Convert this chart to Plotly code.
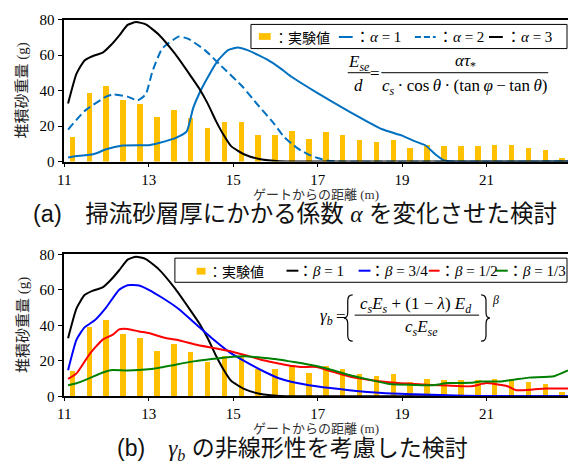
import plotly.graph_objects as go

# ---------------- data ----------------
bar_x = [11.2, 11.6, 12.0, 12.4, 12.8, 13.2, 13.6, 14.0, 14.4, 14.8, 15.2, 15.6, 16.0, 16.4, 16.8,
         17.2, 17.6, 18.0, 18.4, 18.8, 19.2, 19.6, 20.0, 20.4, 20.8, 21.2, 21.6, 22.0, 22.4, 22.8]
exp_vals = [14.1, 39.0, 42.8, 34.8, 32.9, 25.3, 29.4, 24.5, 19.3, 22.7, 22.7, 15.0, 15.3, 17.3, 12.8,
            16.8, 15.0, 12.3, 11.4, 12.3, 7.9, 9.7, 9.2, 8.8, 9.0, 9.6, 9.6, 7.8, 6.5, 2.2]

a1_x = [11.09, 11.29, 11.6, 11.76, 11.99, 12.38, 12.77, 13.0, 13.24, 13.63, 13.9, 14.05, 14.2, 14.33,
        14.64, 14.88, 15.11, 15.34, 15.81, 16.12, 16.4, 16.97, 17.75, 18.53, 19.0, 19.25, 19.55, 19.8,
        20.0, 20.2, 23.0]
a1_y = [2.3, 3.2, 3.8, 4.7, 6.9, 9.0, 9.2, 9.2, 10.5, 13.2, 17.0, 30.0, 38.5, 44.5,
        57.0, 62.8, 64.3, 62.8, 57.4, 52.5, 47.5, 39.0, 28.2, 18.2, 14.6, 11.9, 9.2, 3.8,
        0.6, 0.0, 0.0]

a2_x = [11.09, 11.48, 11.99, 12.15, 12.5, 12.74, 12.93, 13.09, 13.32, 13.71, 13.94, 14.33, 14.72,
        15.23, 15.58, 15.97, 16.2, 16.4, 16.6, 16.8, 17.0, 17.25, 17.5, 23.0]
a2_y = [18.0, 28.5, 36.6, 37.9, 36.6, 34.5, 37.9, 51.0, 63.7, 70.4, 69.1, 62.8, 53.8,
        42.0, 32.0, 21.3, 14.0, 9.8, 6.3, 3.8, 2.0, 0.4, 0.0, 0.0]

a3_x = [11.09, 11.29, 11.48, 11.68, 11.91, 12.1, 12.3, 12.5, 12.7, 12.93, 13.24, 13.63, 14.0, 14.2,
        14.4, 14.6, 14.76, 14.95, 15.27, 15.65, 16.1, 16.6, 23.0]
a3_y = [32.7, 49.5, 57.0, 59.5, 61.4, 65.5, 71.0, 77.0, 78.6, 77.3, 71.5, 60.5, 48.0, 41.0,
        32.5, 22.5, 15.5, 8.7, 4.0, 1.3, 0.2, 0.0, 0.0]

b1_x = a3_x
b1_y = a3_y

b34_x = [11.09, 11.29, 11.48, 11.72, 11.99, 12.3, 12.5, 12.77, 13.0, 13.32, 13.71, 14.1, 14.49, 14.92,
         15.31, 15.74, 16.1, 16.4, 16.97, 17.75, 18.53, 19.3, 20.08, 20.86, 21.5, 23.0]
b34_y = [14.7, 31.9, 38.8, 42.8, 50.0, 60.0, 62.6, 62.4, 60.0, 55.5, 49.2, 41.0, 32.8, 24.7,
         19.2, 13.8, 10.0, 8.0, 5.6, 3.4, 1.8, 1.1, 0.5, 0.2, 0.0, 0.0]

b12_x = [11.09, 11.29, 11.6, 11.91, 12.15, 12.3, 12.5, 12.77, 13.0, 13.4, 13.71, 14.1, 14.49, 14.88,
         15.27, 15.74, 16.12, 16.4, 16.6, 16.97, 17.36, 17.75, 18.2, 18.75, 19.3, 19.7, 20.08, 20.62,
         21.0, 21.2, 21.5, 21.7, 22.1, 22.4, 22.93]
b12_y = [9.8, 12.9, 23.8, 31.9, 34.7, 37.7, 37.9, 36.5, 35.6, 32.8, 31.6, 29.2, 27.4, 25.6,
         23.2, 20.1, 18.3, 17.0, 16.5, 16.5, 13.8, 11.1, 9.3, 7.8, 6.9, 6.4, 6.0, 5.6,
         7.4, 6.9, 5.6, 3.4, 3.8, 4.4, 4.4]

b13_x = [11.09, 11.29, 11.6, 11.91, 12.1, 12.5, 13.0, 13.24, 13.63, 14.1, 14.49, 14.88, 15.27, 15.74,
         16.0, 16.3, 16.66, 16.97, 17.36, 17.75, 18.14, 18.7, 19.3, 19.7, 20.08, 20.62, 20.85, 21.3,
         21.64, 22.0, 22.6, 22.93]
b13_y = [6.2, 7.3, 10.2, 13.4, 14.7, 14.5, 15.2, 16.0, 17.8, 19.8, 21.0, 22.0, 22.5, 21.6,
         21.0, 19.8, 18.5, 17.0, 14.7, 12.0, 9.8, 6.9, 6.4, 6.2, 7.4, 7.6, 8.3, 8.3,
         9.3, 10.5, 11.3, 14.5]

x_ticks = [11, 13, 15, 17, 19, 21]
y_ticks = [0, 20, 40, 60, 80]

# ---------------- styles ----------------
W, H = 568, 468
SERIF = "Liberation Serif, Noto Sans CJK JP"
SANS_JP = "Noto Sans CJK JP"
BAR_C = "#FFC000"
TS = "\u2009"  # thin space


def px(x):
    return x / W


def py(y):
    return 1 - y / H


fig = go.Figure()

# top panel
fig.add_trace(go.Bar(x=bar_x, y=exp_vals, width=0.13, marker=dict(color=BAR_C, line=dict(width=0)),
                     xaxis="x", yaxis="y", showlegend=False))
spl = dict(shape="spline", smoothing=0.5, width=2)
fig.add_trace(go.Scatter(x=a1_x, y=a1_y, mode="lines", line=dict(color="#0070C0", **spl),
                         xaxis="x", yaxis="y", showlegend=False))
fig.add_trace(go.Scatter(x=a2_x, y=a2_y, mode="lines", line=dict(color="#0070C0", dash="8px,4px", **spl),
                         xaxis="x", yaxis="y", showlegend=False))
fig.add_trace(go.Scatter(x=a3_x, y=a3_y, mode="lines", line=dict(color="black", **spl),
                         xaxis="x", yaxis="y", showlegend=False))

# bottom panel
fig.add_trace(go.Bar(x=bar_x, y=exp_vals, width=0.13, marker=dict(color=BAR_C, line=dict(width=0)),
                     xaxis="x2", yaxis="y2", showlegend=False))
fig.add_trace(go.Scatter(x=b1_x, y=b1_y, mode="lines", line=dict(color="black", **spl),
                         xaxis="x2", yaxis="y2", showlegend=False))
fig.add_trace(go.Scatter(x=b34_x, y=b34_y, mode="lines", line=dict(color="#0000FF", **spl),
                         xaxis="x2", yaxis="y2", showlegend=False))
fig.add_trace(go.Scatter(x=b12_x, y=b12_y, mode="lines", line=dict(color="#FF0000", **spl),
                         xaxis="x2", yaxis="y2", showlegend=False))
fig.add_trace(go.Scatter(x=b13_x, y=b13_y, mode="lines", line=dict(color="#008000", **spl),
                         xaxis="x2", yaxis="y2", showlegend=False))

xax = dict(range=[11, 22.93], tickvals=x_ticks, showline=True, linewidth=2, linecolor="black",
           mirror=True, ticks="outside", ticklen=3, tickwidth=1, tickcolor="black",
           showgrid=False, zeroline=False, tickfont=dict(family=SERIF, size=15, color="black"))
yax = dict(range=[0, 80], tickvals=y_ticks, showline=True, linewidth=1.5, linecolor="black",
           ticks="outside", ticklen=5, tickwidth=1, tickcolor="black", showgrid=False,
           zeroline=False, tickfont=dict(family=SERIF, size=15, color="black"))

top_dom = [py(159), py(12)]
bot_dom = [py(402), py(255)]
xdom = [px(58), 1.0]

fig.update_layout(
    width=W, height=H, margin=dict(l=0, r=0, t=0, b=0),
    paper_bgcolor="white", plot_bgcolor="white", showlegend=False, bargap=0,
    xaxis=dict(domain=xdom, anchor="y", **xax),
    yaxis=dict(domain=top_dom, anchor="x", **yax),
    xaxis2=dict(domain=xdom, anchor="y2", **xax),
    yaxis2=dict(domain=bot_dom, anchor="x2", **yax),
)

shapes = []
ann = []


def text(x, y, t, size, family=SERIF, xanchor="center", angle=0, color="black"):
    ann.append(dict(x=px(x), y=py(y), xref="paper", yref="paper", text=t, showarrow=False,
                    xanchor=xanchor, yanchor="middle", textangle=angle, borderpad=0,
                    font=dict(family=family, size=size, color=color)))


def hline(x0, x1, y, color="black", width=2, dash="solid"):
    shapes.append(dict(type="line", xref="paper", yref="paper", x0=px(x0), x1=px(x1),
                       y0=py(y), y1=py(y), line=dict(color=color, width=width, dash=dash)))


def rect(x0, y0, x1, y1, fill=None, line_color="black", lw=1):
    shapes.append(dict(type="rect", xref="paper", yref="paper", x0=px(x0), x1=px(x1),
                       y0=py(y0), y1=py(y1), fillcolor=fill if fill else "rgba(0,0,0,0)",
                       line=dict(color=line_color, width=lw)))


def brace(xo, y0, y1, flip=False):
    # curly brace from y0 (top) to y1 (bottom); xo: x of the arm ends
    ym = (y0 + y1) / 2
    s = -1 if not flip else 1
    xs = xo + s * 5          # spine x
    xt = xs + s * 4          # tip x
    pts = [
        ("M", [(xo, y0)]),
        ("Q", [(xs, y0), (xs, y0 + 6)]),
        ("L", [(xs, ym - 6)]),
        ("Q", [(xs, ym), (xt, ym)]),
        ("Q", [(xs, ym), (xs, ym + 6)]),
        ("L", [(xs, y1 - 6)]),
        ("Q", [(xs, y1), (xo, y1)]),
    ]
    path = ""
    for cmd, ps in pts:
        path += cmd + " " + " ".join(f"{px(a):.5f},{py(b):.5f}" for a, b in ps) + " "
    shapes.append(dict(type="path", xref="paper", yref="paper", path=path.strip(),
                       line=dict(color="black", width=1.2)))


# ---------- axis titles ----------
for yc, xt in [(85.5, 193), (328.5, 435.5)]:
    text(16, yc, "堆積砂重量 (g)", 15, angle=-90, color="#222222")
    text(313, xt, "ゲートからの距離 (m)", 13, color="#333333")

# ---------- captions ----------
text(25, 213, "(a)　掃流砂層厚にかかる係数 <span style='font-family:Liberation Serif'><i>α</i></span> を変化させた検討",
     23.5, family="Liberation Sans, Noto Sans CJK JP", xanchor="left", color="#111111")
text(110, 457, "(b)　<span style='font-family:Liberation Serif'><i>γ<sub>b</sub></i></span> の非線形性を考慮した検討",
     23, family="Liberation Sans, Noto Sans CJK JP", xanchor="left", color="#111111")

# ---------- legend (top) ----------
rect(247, 17, 567, 42, fill="white", lw=1)
ly = 30
rect(255, 26, 267, 33, fill=BAR_C, line_color=BAR_C, lw=0)
text(269, ly, "：実験値", 14, family=SANS_JP, xanchor="left")
hline(336, 350, ly, color="#0070C0")
text(351, ly, "：<i>α</i> = 1", 15, xanchor="left")
hline(413, 434, ly, color="#0070C0", dash="6px,3px")
text(435, ly, "：<i>α</i> = 2", 15, xanchor="left")
hline(488, 502, ly, color="black")
text(504, ly, "：<i>α</i> = 3", 15, xanchor="left")

# ---------- legend (bottom) ----------
rect(170, 259, 567, 284, fill="white", lw=1)
ly2 = 272
rect(192, 269, 201, 276, fill=BAR_C, line_color=BAR_C, lw=0)
text(202, ly2, "：実験値", 14, family=SANS_JP, xanchor="left")
hline(283, 295, ly2, color="black")
text(294, ly2, "：<i>β</i> = 1", 15, xanchor="left")
hline(356, 368, ly2, color="#0000FF")
text(367, ly2, "：<i>β</i> = 3/4", 15, xanchor="left")
hline(427, 438, ly2, color="#FF0000")
text(437, ly2, "：<i>β</i> = 1/2", 15, xanchor="left")
hline(495, 507, ly2, color="#008000")
text(506, ly2, "：<i>β</i> = 1/3", 15, xanchor="left")

# ---------- formula (top) ----------
text(356, 57, "<i>E<sub>se</sub></i>", 17)
hline(345, 368, 67, width=1)
text(356, 80, "<i>d</i>", 17)
text(373, 68, "=", 17)
text(464, 56, "<i>ατ</i><sub>*</sub>", 17)
hline(379, 548, 67, width=1)
text(463, 82, f"<i>c<sub>s</sub></i>{TS}·{TS}cos{TS}<i>θ</i>{TS}·{TS}(tan{TS}<i>φ</i>{TS}−{TS}tan{TS}<i>θ</i>)", 17)

# ---------- formula (bottom) ----------
text(323, 320, "<i>γ<sub>b</sub></i>", 17)
text(338, 319, "=", 17)
brace(350, 297, 345)
text(414, 307, "<i>c<sub>s</sub>E<sub>s</sub></i> + (1 − <i>λ</i>) <i>E<sub>d</sub></i>", 17)
hline(352, 478, 318, width=1)
text(420, 331, "<i>c<sub>s</sub>E<sub>se</sub></i>", 17)
brace(480, 297, 345, flip=True)
text(495, 302, "<i>β</i>", 12)

fig.update_layout(shapes=shapes, annotations=ann)
fig.write_html("out.html", config={"displayModeBar": False},
               post_script="document.body.style.margin='0px';document.body.style.overflow='hidden';")
